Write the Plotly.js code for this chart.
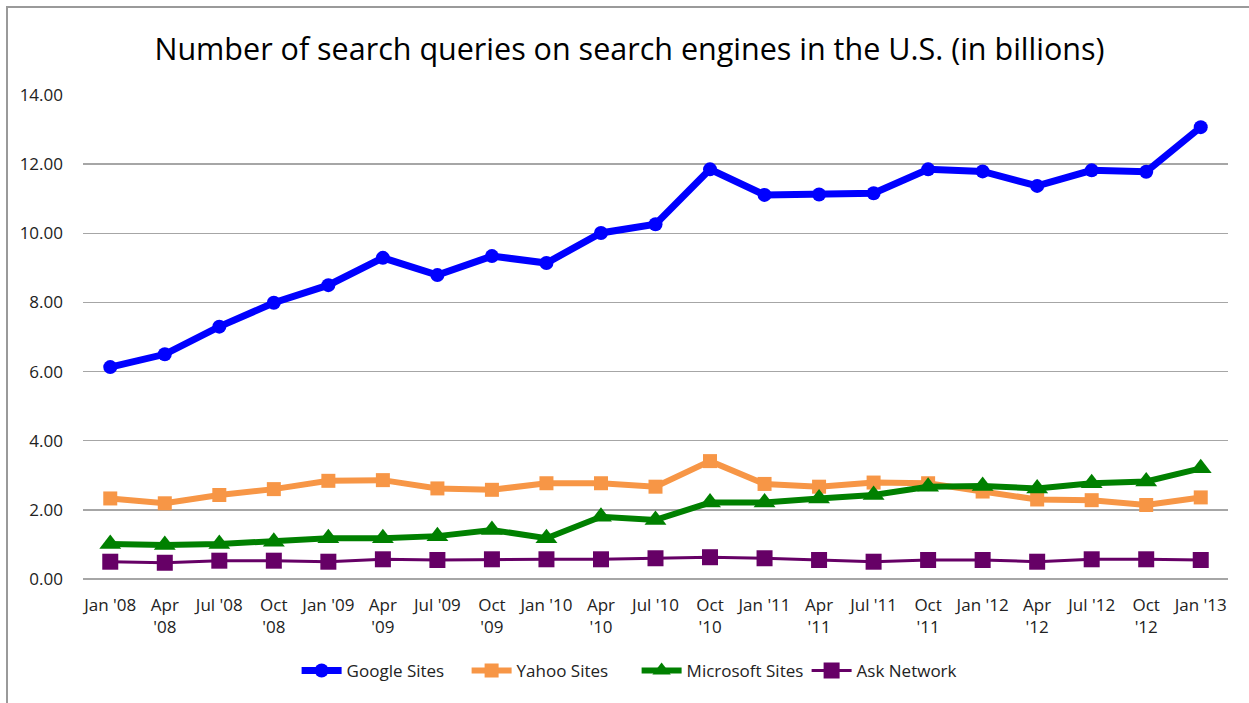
<!DOCTYPE html>
<html>
<head>
<meta charset="utf-8">
<script src="https://cdn.plot.ly/plotly-3.0.1.min.js"></script>
<style>
  html, body { margin: 0; padding: 0; background: #fff; overflow: hidden; }
  #chart { width: 1249px; height: 703px; }
  #frame { position: absolute; left: 6px; top: 6px; width: 1400px; height: 900px;
           border-top: 2px solid #9a9a9a; border-left: 2px solid #9a9a9a; pointer-events: none; }
</style>
</head>
<body>
<div id="chart"></div>
<div id="frame"></div>
<script>
const quarters = ["Jan '08", "Apr<br>'08", "Jul '08", "Oct<br>'08", "Jan '09", "Apr<br>'09", "Jul '09",
  "Oct<br>'09", "Jan '10", "Apr<br>'10", "Jul '10", "Oct<br>'10", "Jan '11", "Apr<br>'11", "Jul '11",
  "Oct<br>'11", "Jan '12", "Apr<br>'12", "Jul '12", "Oct<br>'12", "Jan '13"];

const google = [6.13, 6.50, 7.30, 7.99, 8.50, 9.29, 8.79, 9.34, 9.14, 10.01, 10.26, 11.85, 11.11, 11.12, 11.16, 11.85, 11.79, 11.37, 11.82, 11.78, 13.07];
const yahoo = [2.33, 2.19, 2.43, 2.60, 2.84, 2.86, 2.62, 2.58, 2.77, 2.77, 2.67, 3.41, 2.75, 2.67, 2.79, 2.77, 2.53, 2.30, 2.28, 2.14, 2.36];
const microsoft = [1.01, 0.98, 1.01, 1.08, 1.18, 1.18, 1.24, 1.42, 1.18, 1.80, 1.71, 2.21, 2.21, 2.33, 2.43, 2.67, 2.69, 2.62, 2.77, 2.82, 3.20];
const ask = [0.50, 0.47, 0.53, 0.53, 0.50, 0.57, 0.55, 0.57, 0.57, 0.57, 0.60, 0.63, 0.60, 0.55, 0.50, 0.55, 0.55, 0.50, 0.57, 0.57, 0.55];

const seriesNames = ["Google Sites", "Yahoo Sites", "Microsoft Sites", "Ask Network"];

const traces = [
  { x: quarters, y: google, name: seriesNames[0], type: "scatter", mode: "lines+markers",
    line: { color: "#0000ff", width: 7 }, marker: { symbol: "circle", size: 14, color: "#0000ff" } },
  { x: quarters, y: yahoo, name: seriesNames[1], type: "scatter", mode: "lines+markers",
    line: { color: "#f79646", width: 6 }, marker: { symbol: "square", size: 14, color: "#f79646" } },
  { x: quarters, y: microsoft, name: seriesNames[2], type: "scatter", mode: "lines+markers",
    line: { color: "#008000", width: 6 }, marker: { symbol: "triangle-up", size: 19, color: "#008000" } },
  { x: quarters, y: ask, name: seriesNames[3], type: "scatter", mode: "lines+markers",
    line: { color: "#660066", width: 3 }, marker: { symbol: "square", size: 16, color: "#660066" } }
];

const fam = "'Open Sans', Lato, sans-serif";
const layout = {
  width: 1249, height: 703,
  margin: { l: 83, r: 21, t: 95, b: 124 },
  paper_bgcolor: "#ffffff", plot_bgcolor: "#ffffff",
  font: { family: fam, color: "#222", size: 17 },
  title: { text: "Number of search queries on search engines in the U.S. (in billions)",
           font: { family: fam, size: 30.5, color: "#000" },
           x: 0.504, xanchor: "center", y: 0.93, yanchor: "middle" },
  xaxis: { type: "category", range: [-0.5, 20.5], showgrid: false, zeroline: false,
           showline: false, ticks: "", tickfont: { family: fam, size: 17, color: "#222" }, ticklabelstandoff: 14,
           fixedrange: true },
  yaxis: { range: [0, 14], dtick: 2, tickformat: ".2f", showgrid: true, gridcolor: "#a6a6a6",
           gridwidth: 1.5, zeroline: true, zerolinecolor: "#a6a6a6", zerolinewidth: 2,
           showline: false, ticks: "", tickfont: { family: fam, size: 17, color: "#222" }, ticklabelstandoff: 19,
           fixedrange: true },
  showlegend: true,
  legend: { orientation: "h", x: 0.4835, xanchor: "center", y: -0.19, yanchor: "middle",
            font: { family: fam, size: 17, color: "#222" }, itemwidth: 40, traceorder: "normal",
            entrywidth: 115, entrywidthmode: "pixels" }
};

Plotly.newPlot("chart", traces, layout, { displayModeBar: false, staticPlot: true });
</script>
</body>
</html>
